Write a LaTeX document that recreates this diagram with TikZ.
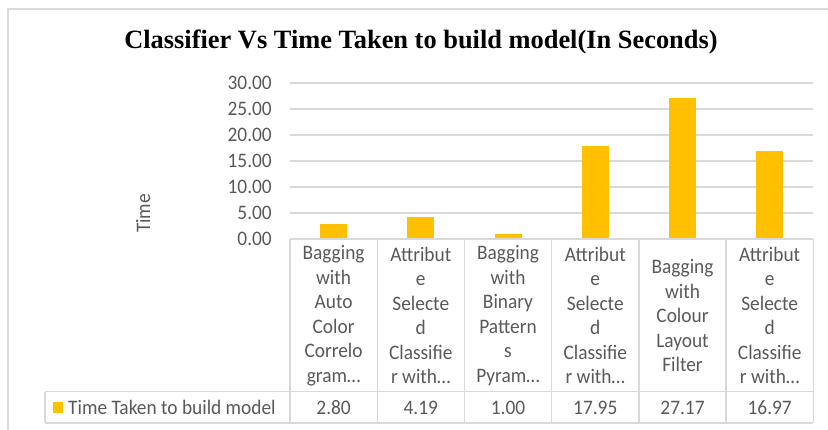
\documentclass[tikz,border=0pt]{standalone}
\usepackage{fontspec}
\setmainfont{Carlito}[FakeStretch=0.94]
\newfontfamily\titlefont{Liberation Serif}
\definecolor{gold}{HTML}{FFC000}
\definecolor{gridgray}{HTML}{D9D9D9}
\definecolor{framegray}{HTML}{D9D9D9}
\definecolor{txtgray}{HTML}{595959}
\begin{document}
\begin{tikzpicture}[x=1pt,y=-1pt,
  gridline/.style={draw=gridgray,line width=1.3pt},
  tabline/.style={draw=gridgray,line width=1.3pt},
  barbox/.style={fill=gold,draw=none},
  ticklabel/.style={anchor=east,text=txtgray,inner sep=0pt,font=\fontsize{20.6}{24.5}\selectfont},
  catlabel/.style={align=center,text=txtgray,inner sep=0pt,font=\fontsize{20.6}{24.5}\selectfont},
  vallabel/.style={text=txtgray,inner sep=0pt,font=\fontsize{20.6}{24.5}\selectfont},
]
\useasboundingbox (0,0) rectangle (828,429);
% outer frame (cut at right and bottom)
\draw[draw=framegray,line width=1.6pt] (8,440) -- (8,9) -- (840,9);
% title
\node[font=\titlefont\bfseries\fontsize{26.4}{30}\selectfont,inner sep=0pt] (title) at (421,42) {Classifier Vs Time Taken to build model(In Seconds)};
% gridlines and ticks
\foreach \v in {1,...,6}{
  \draw[gridline] (290,{239-26*\v}) -- (813.3,{239-26*\v});
}
\foreach \v/\lab in {0/0.00,1/5.00,2/10.00,3/15.00,4/20.00,5/25.00,6/30.00}{
  \node[ticklabel] (tick\v) at (272,{239-26*\v}) {\lab};
}
% axis title
\node[rotate=90,text=txtgray,inner sep=0pt,font=\fontsize{20.6}{24.5}\selectfont] (ytitle) at (143,213.5) {Time};
% bars
\foreach \i/\val in {0/2.80,1/4.19,2/1.00,3/17.95,4/27.17,5/16.97}{
  \fill[barbox] ({290+87.22*\i+43.61-13.5},239) rectangle ({290+87.22*\i+43.61+13.5},{239-5.2*\val});
}
% table lines
\draw[tabline] (290,239) -- (813.3,239);
\draw[tabline] (45,391.7) -- (813.3,391.7);
\draw[tabline] (45,423) -- (813.3,423);
\draw[tabline] (45,391.7) -- (45,423);
\foreach \i in {0,...,6}{
  \draw[tabline] ({290+87.22*\i},239) -- ({290+87.22*\i},423);
}
% category labels
\node[catlabel] (c1) at (333.6,315.5) {Bagging\\with\\Auto\\Color\\Correlo\\gram\dots};
\node[catlabel] (c2) at (420.8,315.5) {Attribut\\e\\Selecte\\d\\Classifie\\r with\dots};
\node[catlabel] (c3) at (508.0,315.5) {Bagging\\with\\Binary\\Pattern\\s\\Pyram\dots};
\node[catlabel] (c4) at (595.3,315.5) {Attribut\\e\\Selecte\\d\\Classifie\\r with\dots};
\node[catlabel] (c5) at (682.5,315.5) {Bagging\\with\\Colour\\Layout\\Filter};
\node[catlabel] (c6) at (769.7,315.5) {Attribut\\e\\Selecte\\d\\Classifie\\r with\dots};
% legend and values
\fill[gold] (53,402) rectangle (63.3,412.7);
\node[vallabel,anchor=west] (series) at (68,407.5) {Time Taken to build model};
\node[vallabel] (v1) at (333.6,407.5) {2.80};
\node[vallabel] (v2) at (420.8,407.5) {4.19};
\node[vallabel] (v3) at (508.0,407.5) {1.00};
\node[vallabel] (v4) at (595.3,407.5) {17.95};
\node[vallabel] (v5) at (682.5,407.5) {27.17};
\node[vallabel] (v6) at (769.7,407.5) {16.97};
\end{tikzpicture}
\end{document}
